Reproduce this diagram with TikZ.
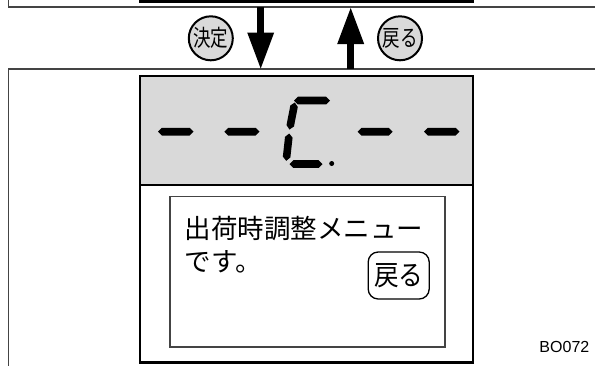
\documentclass[tikz,border=0pt]{standalone}
\usepackage{fontspec}
\usepackage{graphicx}
\setmainfont{Liberation Sans}
\newfontfamily\cjk{Noto Sans CJK JP}
\usetikzlibrary{calc,arrows.meta}
\definecolor{lcdgray}{HTML}{D9D9D9}
\definecolor{framecol}{HTML}{444444}
\tikzset{
 frameline/.style={draw=framecol,line width=1.3pt},
 boxline/.style={draw=black,line width=2.6pt},
 innerline/.style={draw=framecol,line width=1.3pt},
 flowarrow/.style={line width=7.5pt,-{Triangle[length=36pt,width=27pt,line width=0pt]}},
 keycircle/.style={circle,draw=black,line width=2pt,fill=lcdgray,minimum size=44pt,inner sep=0pt},
 segfill/.style={fill=black},
 msgtext/.style={anchor=west,inner sep=0pt,font=\cjk\fontsize{26.5}{26.5}\selectfont},
}
\newcommand{\segh}{3.8pt}
\newcommand{\lcdseg}[2]{\fill[segfill] #1 -- ($#1!\segh!#2!\segh!90:#2$) -- ($#2!\segh!#1!\segh!-90:#1$) -- #2 -- ($#2!\segh!#1!\segh!90:#1$) -- ($#1!\segh!#2!\segh!-90:#2$) -- cycle;}
\begin{document}
\begin{tikzpicture}[x=1pt,y=-1pt]
\useasboundingbox (0,0) rectangle (595,365);
\begin{scope}
\clip (0,0) rectangle (595,365);
% upper frame and upper screen box (cut by the page edge)
\draw[frameline] (8.3,-10) -- (8.3,7) -- (600,7);
\draw[boxline] (140,-10) -- (140,1.3) -- (473,1.3) -- (473,-10);
% lower frame
\draw[frameline] (8.3,380) -- (8.3,69) -- (600,69);
\end{scope}
% display
\fill[lcdgray] (140,76) rectangle (473,185);
\draw[boxline] (140,76) rectangle (473,362.5);
\draw[boxline] (140,185) -- (473,185);
\draw[innerline] (170,196.7) rectangle (445,347);
% seven-segment readout
\lcdseg{(158,131.7)}{(193.5,131.7)}
\lcdseg{(224.3,131.7)}{(259.5,131.7)}
\lcdseg{(357.7,131.7)}{(392.7,131.7)}
\lcdseg{(424,131.7)}{(459.5,131.7)}
\lcdseg{(294,100.5)}{(330,100.5)}
\lcdseg{(294.8,102.5)}{(289.5,129.5)}
\lcdseg{(289.2,133.5)}{(286.2,160.8)}
\lcdseg{(289.5,164)}{(322.5,164)}
\fill (331.7,163.5) circle (2.5pt);
% messages
\node[msgtext] (msg1) at (184.5,228.5) {出荷時調整メニュー};
\node[msgtext] (msg2) at (184.5,262) {です。};
\node[draw=black,line width=1.3pt,rounded corners=10pt,minimum width=61pt,minimum height=47pt,inner sep=0pt] (back) at (398.7,275.5) {\cjk\fontsize{28}{28}\selectfont\scalebox{0.88}[1]{戻る}};
% keys
\node[keycircle] (kdecide) at (210.8,38.3) {\cjk\fontsize{23}{23}\selectfont\scalebox{0.76}[1]{決定}};
\node[keycircle] (kback) at (400,38.3) {\cjk\fontsize{23}{23}\selectfont\scalebox{0.76}[1]{戻る}};
% arrows
\coordinate (dn1) at (260.7,7);
\coordinate (dn2) at (260.7,68.5);
\coordinate (up1) at (350.7,69);
\coordinate (up2) at (350.7,8);
\draw[flowarrow] (dn1) -- (dn2);
\draw[flowarrow] (up1) -- (up2);
% code
\node[anchor=east,inner sep=0pt,font=\fontsize{16}{16}\selectfont] (code) at (589.5,346.7) {BO072};
\end{tikzpicture}
\end{document}
